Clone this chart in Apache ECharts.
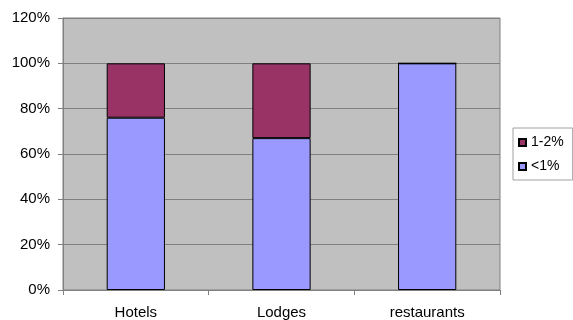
<!DOCTYPE html>
<html><head><meta charset="utf-8">
<script src="https://cdn.jsdelivr.net/npm/echarts@6/dist/echarts.min.js"></script>
<style>html,body{margin:0;padding:0;background:#fff}#c{width:573px;height:320px}</style>
</head><body><div id="c"></div>
<script>
const categories = ['Hotels', 'Lodges', 'restaurants'];
const lessThan1 = [76, 67, 100];
const oneToTwo = [24, 33, 0];
const yTicks = { min: 0, max: 120, interval: 20 };

const chart = echarts.init(document.getElementById('c'), null, { renderer: 'canvas' });
const font = 'Liberation Sans, Arial, sans-serif';
chart.setOption({
  animation: false,
  backgroundColor: '#ffffff',
  grid: { left: 63, right: 73, top: 18, bottom: 30, show: true, backgroundColor: '#C0C0C0', borderColor: '#808080', borderWidth: 1 },
  legend: {
    data: ['1-2%', '<1%'],
    orient: 'vertical',
    left: 513, top: 128,
    padding: [7, 9, 6, 5],
    itemWidth: 7, itemHeight: 7, itemGap: 9,
    icon: 'rect',
    backgroundColor: '#ffffff',
    borderColor: '#a0a0a0', borderWidth: 1,
    textStyle: { fontFamily: font, fontSize: 14, color: '#000', lineHeight: 15 }
  },
  xAxis: {
    type: 'category', data: categories,
    axisLine: { lineStyle: { color: '#808080' } },
    axisTick: { show: true, length: 5, alignWithLabel: false, lineStyle: { color: '#808080' } },
    axisLabel: { fontFamily: font, fontSize: 15, color: '#000', margin: 15 }
  },
  yAxis: {
    type: 'value', min: yTicks.min, max: yTicks.max, interval: yTicks.interval,
    axisLine: { show: true, lineStyle: { color: '#808080' } },
    axisTick: { show: true, length: 5, lineStyle: { color: '#808080' } },
    axisLabel: { formatter: '{value}%', fontFamily: font, fontSize: 15, color: '#000', margin: 13 },
    splitLine: { lineStyle: { color: '#808080' } }
  },
  series: [
    { name: '<1%', type: 'bar', stack: 's', data: lessThan1, barWidth: '40%',
      itemStyle: { color: '#9999FF', borderColor: '#000', borderWidth: 1 } },
    { name: '1-2%', type: 'bar', stack: 's', data: oneToTwo, barWidth: '40%',
      itemStyle: { color: '#993366', borderColor: '#000', borderWidth: 1 } }
  ]
});
</script></body></html>
